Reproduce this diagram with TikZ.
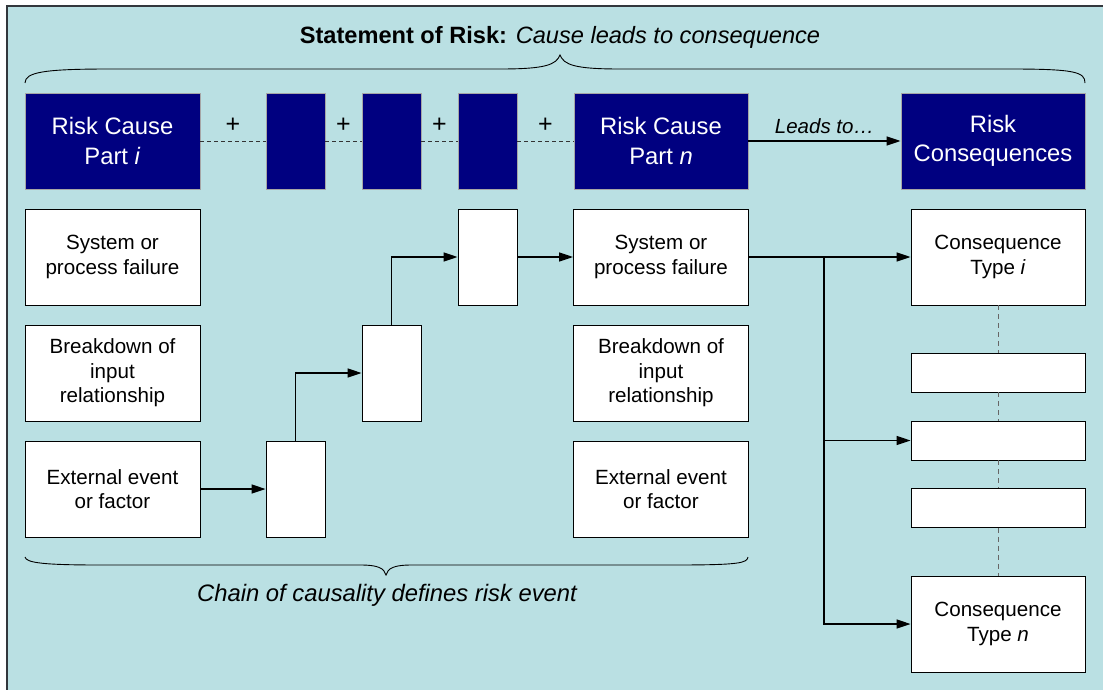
\documentclass[tikz,border=0pt]{standalone}
\usepackage{fontspec}
\setmainfont{Liberation Sans}
\usetikzlibrary{arrows.meta,calc}
\definecolor{panel}{RGB}{186,224,227}
\definecolor{deepnavy}{RGB}{0,0,128}
\definecolor{frameline}{RGB}{50,55,60}
\begin{document}
\begin{tikzpicture}[x=1pt,y=-1pt,
  base/.style={rectangle,inner sep=0pt,align=center,line width=0.9pt},
  navybig/.style={base,fill=deepnavy,draw=gray!70,text=white,minimum height=96pt,
    font=\fontsize{23.8}{29.5}\selectfont},
  navysmall/.style={base,fill=deepnavy,draw=gray!70,minimum width=59pt,minimum height=96pt},
  whitebig/.style={base,fill=white,draw=black,minimum width=175pt,minimum height=96pt,
    font=\fontsize{20.6}{24.5}\selectfont},
  whitesmall/.style={base,fill=white,draw=black,minimum width=59pt,minimum height=96pt},
  whiteflat/.style={base,fill=white,draw=black,minimum width=174pt,minimum height=39pt},
  arr/.style={line width=1.2pt,-{Triangle[length=14pt,width=9pt]}},
  link/.style={line width=0.9pt,dashed,dash pattern=on 4pt off 3pt,draw=black!80},
  vlink/.style={line width=0.9pt,dash pattern=on 5pt off 4pt,draw=black!60},
  plus/.style={font=\fontsize{25}{25}\selectfont},
  bracepath/.style={line width=0.9pt}]
\useasboundingbox (0,0) rectangle (1103,690);
% panel
\fill[panel] (7,6) rectangle (1103,690);
\draw[frameline,line width=2pt] (7,690) -- (7,6) -- (1103,6);

% title
\node (title) at (560,37) {\fontsize{23.6}{26}\selectfont\textbf{Statement of Risk:} \textit{Cause leads to consequence}};
\draw[bracepath] (25,83) .. controls (25,72) and (45,69) .. (110,69) -- (500,69)
  .. controls (545,69) and (556,65) .. (560,55) .. controls (564,65) and (575,69) .. (620,69)
  -- (1010,69) .. controls (1075,69) and (1085,72) .. (1085,83);

% top row
\node[navybig,minimum width=175pt] (rci) at (112.5,141) {Risk Cause\\Part \textit{i}};
\node[navysmall] (p1) at (295.5,141) {};
\node[navysmall] (p2) at (391.5,141) {};
\node[navysmall] (p3) at (487.5,141) {};
\node[navybig,minimum width=174pt] (rcn) at (661,141) {Risk Cause\\Part \textit{n}};
\node[navybig,minimum width=184pt] (rc) at (993,141) {Risk\\Consequences};

\draw[link] (rci.east) -- (p1.west);
\draw[link] (p1.east) -- (p2.west);
\draw[link] (p2.east) -- (p3.west);
\draw[link] (p3.east) -- (rcn.west);
\node[plus] (pl1) at ($(rci.east)!0.5!(p1.west)+(0,-16)$) {+};
\node[plus] (pl2) at ($(p1.east)!0.5!(p2.west)+(0,-16)$) {+};
\node[plus] (pl3) at ($(p2.east)!0.5!(p3.west)+(0,-16)$) {+};
\node[plus] (pl4) at ($(p3.east)!0.5!(rcn.west)+(0,-16)$) {+};
\draw[arr] (rcn.east) -- node[above=3pt,font=\fontsize{20.5}{22}\selectfont\itshape] (leads) {Leads to\ldots} (rc.west);

% left column
\node[whitebig] (sa) at (112.5,257) {System or\\process failure};
\node[whitebig] (ba) at (112.5,373) {Breakdown of\\input\\relationship};
\node[whitebig] (ea) at (112.5,489) {External event\\or factor};

% chain
\node[whitesmall] (c1) at (295.5,489) {};
\node[whitesmall] (c2) at (391.5,373) {};
\node[whitesmall] (c3) at (487.5,257) {};

% middle column
\node[whitebig] (sb) at (661,257) {System or\\process failure};
\node[whitebig] (bb) at (661,373) {Breakdown of\\input\\relationship};
\node[whitebig] (eb) at (661,489) {External event\\or factor};

\draw[arr] (ea.east) -- (c1.west);
\draw[arr] (c1.north) |- (c2.west);
\draw[arr] (c2.north) |- (c3.west);
\draw[arr] (c3.east) -- (sb.west);

% consequences
\node[whitebig,minimum width=174pt] (ci) at (998,257) {Consequence\\Type \textit{i}};
\node[whiteflat] (f1) at (998,372.5) {};
\node[whiteflat] (f2) at (998,440.5) {};
\node[whiteflat] (f3) at (998,508) {};
\node[whitebig,minimum width=174pt] (cn) at (998,624) {Consequence\\Type \textit{n}};

\draw[vlink] (ci.south) -- (f1.north);
\draw[vlink] (f1.south) -- (f2.north);
\draw[vlink] (f2.south) -- (f3.north);
\draw[vlink] (f3.south) -- (cn.north);

\coordinate (fork) at (824,257);
\draw[arr] (sb.east) -- (ci.west);
\draw[line width=1.2pt] (fork) -- (824,440.5);
\draw[arr] (fork) |- (f2.west);
\draw[arr] (fork) |- (cn.west);

% lower brace
\draw[bracepath] (25,557) .. controls (26,563) and (45,565) .. (100,565) -- (360,565)
  .. controls (378,565) and (384,568) .. (386,575) .. controls (388,568) and (394,565) .. (412,565)
  -- (675,565) .. controls (740,565) and (747,563) .. (748,557);
\node[font=\fontsize{23.8}{26}\selectfont\itshape] (chain) at (387,595) {Chain of causality defines risk event};
\end{tikzpicture}
\end{document}
